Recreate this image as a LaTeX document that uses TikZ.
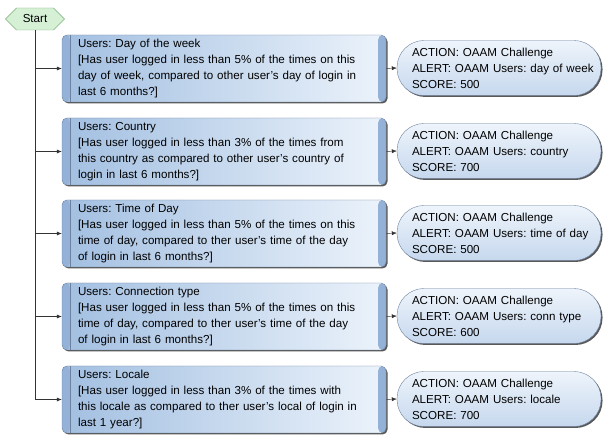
\documentclass[tikz,border=0pt]{standalone}
\usepackage{fontspec}
\setmainfont{Liberation Sans}
\usetikzlibrary{shapes.symbols,shadows,arrows.meta}
\definecolor{boxleft}{RGB}{162,191,225}
\definecolor{boxright}{RGB}{236,243,251}
\definecolor{boxstrip}{RGB}{148,178,216}
\definecolor{boxline}{RGB}{110,130,160}
\definecolor{pilltop}{RGB}{238,244,251}
\definecolor{pillbot}{RGB}{198,216,238}
\definecolor{startfill}{RGB}{214,240,214}
\definecolor{startline}{RGB}{120,175,120}
\tikzstyle{start} = [signal, signal to=east and west, draw=startline, fill=startfill, minimum width=59pt, minimum height=22pt, inner sep=1pt]
\tikzstyle{rule} = [draw=boxline, rounded corners=5pt, left color=boxleft, right color=boxright, minimum width=324pt, minimum height=67pt, text width=292pt, inner xsep=16pt, align=left, drop shadow={shadow xshift=1.5pt, shadow yshift=-1.5pt, fill=black!65, opacity=1},
  path picture={\fill[boxstrip] (path picture bounding box.north west) rectangle ([xshift=8pt]path picture bounding box.south west);
    \fill[boxstrip] ([xshift=-8pt]path picture bounding box.north east) rectangle (path picture bounding box.south east);
    \draw[boxline] ([xshift=8pt]path picture bounding box.north west) -- ([xshift=8pt]path picture bounding box.south west);}]
\tikzstyle{result} = [draw=boxline, rounded corners=27pt, top color=pilltop, bottom color=pillbot, minimum height=55pt, inner xsep=4pt, text width=196pt, align=left, execute at begin node={\leftskip=11pt}, drop shadow={shadow xshift=1.5pt, shadow yshift=-1.5pt, fill=black!65, opacity=1}]
\tikzstyle{link} = [draw=black!80, -{Latex[length=5pt,width=4pt]}]

\begin{document}
\frenchspacing
\begin{tikzpicture}[x=1pt,y=-1pt,font=\fontsize{11.6}{16}\selectfont]
    \useasboundingbox (0,0) rectangle (606,438);
    \node[start](start) at (35,19){Start};
    \node[rule](dow) at (224,68.5){Users: Day of the week\\{[}Has user logged in less than 5\% of the times on this\\day of week, compared to other user's day of login in\\last 6 months?]};
    \node[rule](cty) at (224,151.5){Users: Country\\{[}Has user logged in less than 3\% of the times from\\this country as compared to other user's country of\\login in last 6 months?]};
    \node[rule](tod) at (224,233.5){Users: Time of Day\\{[}Has user logged in less than 5\% of the times on this\\time of day, compared to ther user's time of the day\\of login in last 6 months?]};
    \node[rule](con) at (224,316.5){Users: Connection type\\{[}Has user logged in less than 5\% of the times on this\\time of day, compared to ther user's time of the day\\of login in last 6 months?]};
    \node[rule](loc) at (224,399.5){Users: Locale\\{[}Has user logged in less than 3\% of the times with\\this locale as compared to ther user's local of login in\\last 1 year?]};
    \node[result](rdow) at (499,68){ACTION: OAAM Challenge\\ALERT: OAAM Users: day of week\\SCORE: 500};
    \node[result](rcty) at (499,151){ACTION: OAAM Challenge\\ALERT: OAAM Users: country\\SCORE: 700};
    \node[result](rtod) at (499,233){ACTION: OAAM Challenge\\ALERT: OAAM Users: time of day\\SCORE: 500};
    \node[result](rcon) at (499,316){ACTION: OAAM Challenge\\ALERT: OAAM Users: conn type\\SCORE: 600};
    \node[result](rloc) at (499,399){ACTION: OAAM Challenge\\ALERT: OAAM Users: locale\\SCORE: 700};
    \draw[link](start.south) |- (loc.west);
    \foreach \n in {dow,cty,tod,con}
      \draw[link](start.south |- \n.west) -- (\n.west);
    \foreach \n in {dow,cty,tod,con,loc}
      \draw[link](\n.east) -- (r\n.west);
  \end{tikzpicture}
\end{document}
